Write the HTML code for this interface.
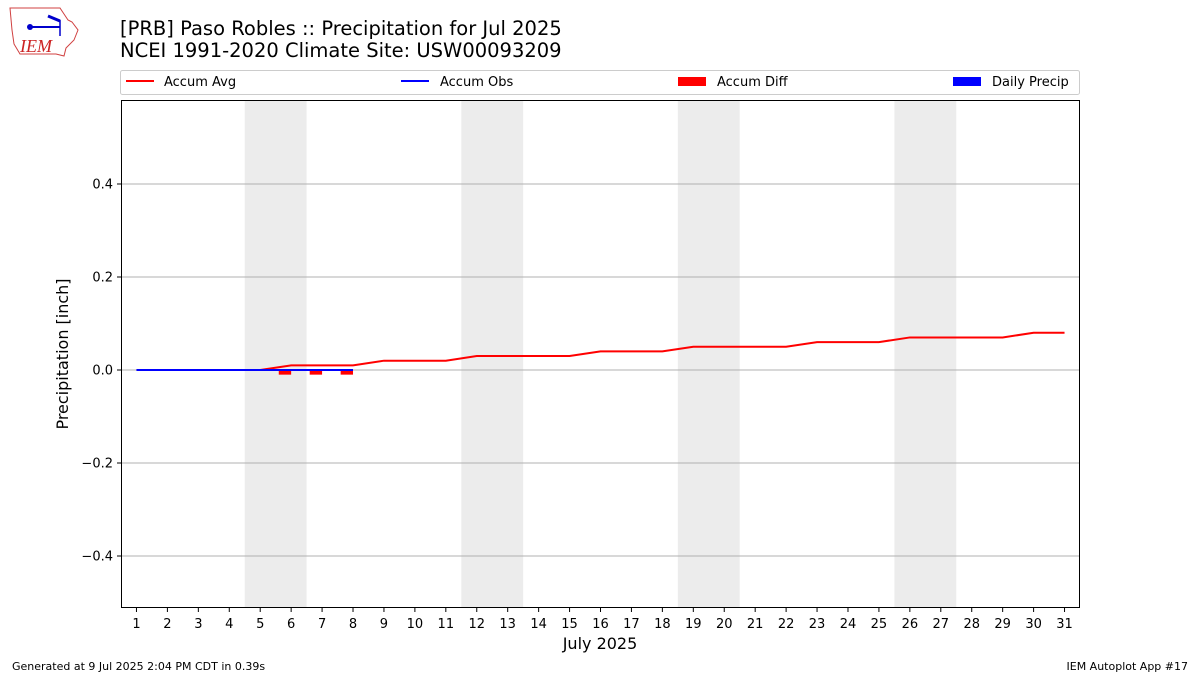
<!DOCTYPE html>
<html><head><meta charset="utf-8">
<style>
body{margin:0;background:#fff;font-family:"Liberation Sans","DejaVu Sans",sans-serif;}
svg text{font-family:"DejaVu Sans","Liberation Sans",sans-serif;}
</style></head>
<body>
<svg id="chart" width="1200" height="675" xmlns="http://www.w3.org/2000/svg">
<g>
<path d="M10,8 L60,8 L64,14 L68,20 L72,22 L78,30 L74,40 L66,48 L64,56 L56,54 L20,54 L14,44 L12,30 Z" fill="none" stroke="#d04040" stroke-width="1"/>
<line x1="30" y1="27" x2="60" y2="27" stroke="#0000cc" stroke-width="2"/>
<circle cx="30" cy="27" r="3" fill="#0000cc"/>
<path d="M48,16 L60,21" stroke="#0000cc" stroke-width="3"/>
<line x1="60" y1="20" x2="60" y2="36" stroke="#0000cc" stroke-width="1.5"/>
<text x="20" y="52" font-style="italic" font-size="18" fill="#cc2222" style="font-family:'Liberation Serif',serif">IEM</text>
</g>
<text x="120" y="35" font-size="19.5" fill="#000">[PRB] Paso Robles :: Precipitation for Jul 2025</text>
<text x="120" y="57" font-size="19.5" fill="#000">NCEI 1991-2020 Climate Site: USW00093209</text>
<g>
<rect x="120.5" y="70.5" width="959" height="24" fill="#fff" stroke="#ccc" rx="2"/>
<line x1="126" y1="81" x2="154" y2="81" stroke="red" stroke-width="2"/>
<text x="164" y="86" font-size="13">Accum Avg</text>
<line x1="401" y1="81" x2="429" y2="81" stroke="blue" stroke-width="2"/>
<text x="440" y="86" font-size="13">Accum Obs</text>
<rect x="678" y="77" width="28" height="9" fill="red"/>
<text x="717" y="86" font-size="13">Accum Diff</text>
<rect x="953" y="77" width="28" height="9" fill="blue"/>
<text x="992" y="86" font-size="13">Daily Precip</text>
</g>
<g id="plot"></g>
<text x="600" y="649" font-size="16" text-anchor="middle">July 2025</text>
<text transform="translate(68,354) rotate(-90)" font-size="16" text-anchor="middle">Precipitation [inch]</text>
<text x="12" y="670" font-size="11">Generated at 9 Jul 2025 2:04 PM CDT in 0.39s</text>
<text x="1188" y="670" font-size="11" text-anchor="end">IEM Autoplot App #17</text>
</svg>
<script>
const days = Array.from({length:31},(_,i)=>i+1);
const accumAvg = [0,0,0,0,0,0.01,0.01,0.01,0.02,0.02,0.02,0.03,0.03,0.03,0.03,0.04,0.04,0.04,0.05,0.05,0.05,0.05,0.06,0.06,0.06,0.07,0.07,0.07,0.07,0.08,0.08];
const obsDays = [1,2,3,4,5,6,7,8];
const accumObs = [0,0,0,0,0,0,0,0];
const diffDays = [6,7,8];
const accumDiff = [-0.01,-0.01,-0.01];
const weekendStarts = [5,12,19,26];
const yTicks = [-0.4,-0.2,0,0.2,0.4];
const L=121,R=1080,T=100,B=608;
const xMin=0.5,xMax=31.5,yMin=-0.5118,yMax=0.5806;
const X=d=>L+(d-xMin)/(xMax-xMin)*(R-L);
const Y=v=>T+(yMax-v)/(yMax-yMin)*(B-T);
const NS="http://www.w3.org/2000/svg";
const g=document.getElementById('plot');
function mk(t,a,p){const e=document.createElementNS(NS,t);for(const k in a)e.setAttribute(k,a[k]);(p||g).appendChild(e);return e;}
weekendStarts.forEach(d=>{const e=mk('rect',{x:X(d-0.5),y:T,width:X(d+1.5)-X(d-0.5),height:B-T,fill:'#ececec'});

});
yTicks.forEach(v=>{const l=mk('line',{x1:L,x2:R,y1:Y(v),y2:Y(v),stroke:'#b0b0b0','stroke-width':1});


mk('line',{x1:L-4,x2:L,y1:Y(v),y2:Y(v),stroke:'#000'});
const t=mk('text',{x:L-8,y:Y(v)+4.5,'font-size':13,'text-anchor':'end'});t.textContent=v.toFixed(1).replace('-','\u2212');

});
days.forEach(d=>{mk('line',{x1:X(d),x2:X(d),y1:B,y2:B+4,stroke:'#000'});
const t=mk('text',{x:X(d),y:B+20,'font-size':13,'text-anchor':'middle'});t.textContent=d;

});
diffDays.forEach((d,i)=>{const v=accumDiff[i];const y0=Y(0),y1=Y(v);
const r=mk('rect',{x:X(d-0.4),y:Math.min(y0,y1),width:X(d)-X(d-0.4),height:Math.abs(y1-y0),fill:'red'});

});
const pa=mk('polyline',{points:days.map((d,i)=>X(d)+','+Y(accumAvg[i])).join(' '),fill:'none',stroke:'red','stroke-width':2});


const po=mk('polyline',{points:obsDays.map((d,i)=>X(d)+','+Y(accumObs[i])).join(' '),fill:'none',stroke:'blue','stroke-width':2});


const f=mk('rect',{x:L+0.5,y:T+0.5,width:R-L-1,height:B-T-1,fill:'none',stroke:'#000','stroke-width':1});


</script>
</body></html>
